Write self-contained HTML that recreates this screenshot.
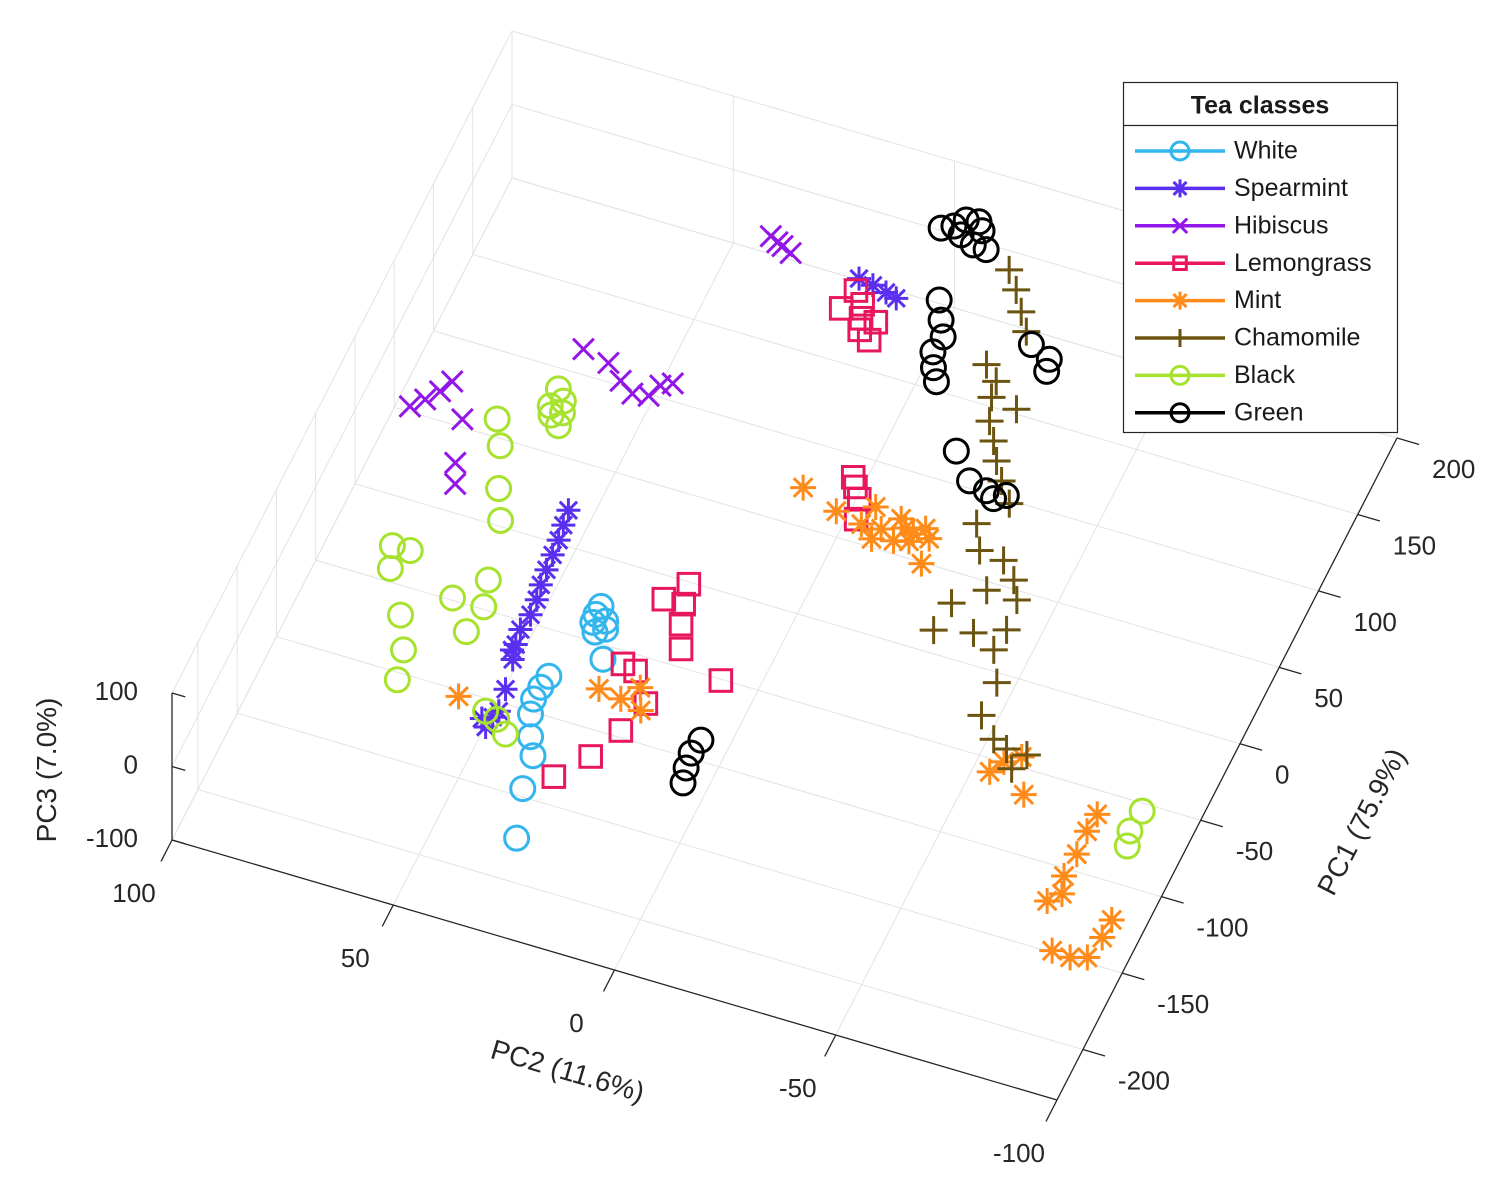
<!DOCTYPE html>
<html><head><meta charset="utf-8"><style>
html,body{margin:0;padding:0;background:#fff;}
svg{display:block;font-family:"Liberation Sans",Arial,sans-serif;}
</style></head><body>
<svg id="chart" width="1511" height="1200" viewBox="0 0 1511 1200" xmlns="http://www.w3.org/2000/svg">
<g id="grid"></g>
<g id="axes"></g>
<g id="points"></g>
<text x="0" y="0" font-size="28" fill="#262626" text-anchor="middle" transform="translate(56,770) rotate(-90)">PC3 (7.0%)</text>
<text x="0" y="0" font-size="28" fill="#262626" text-anchor="middle" transform="translate(565,1080) rotate(16.4)">PC2 (11.6%)</text>
<text x="0" y="0" font-size="28" fill="#262626" text-anchor="middle" transform="translate(1370,826) rotate(-62.8)">PC1 (75.9%)</text>
<g id="legend"></g>
</svg>
<script>
const pc2Ticks = [100, 50, 0, -50, -100];
const pc1Ticks = [-200, -150, -100, -50, 0, 50, 100, 150, 200];
const pc3Ticks = [-100, 0, 100];

const whitePc1 = [-70.4,-80.8,-82.6,-100.1,-118.8,-126.4,-134.3,-143.3,-156.2,-166.6,-187.0,-216.2,-75.8,-78.0,-86.0];
const whitePc2 = [31.9,31.9,28.7,26.2,35.1,35.6,35.8,34.9,32.6,30.2,28.9,25.1,32.1,29.5,30.5];
const spearPc1 = [-21.2,-30.5,-39.8,-49.2,-58.7,-68.2,-77.3,-86.9,-97.0,-106.3,-115.3,-133.4,-151.4,-158.2,-147.0,159.0,157.5,155.6,154.0,-154.0,-110.0];
const spearPc2 = [48.0,47.5,46.9,46.6,46.3,45.9,45.2,44.9,45.4,44.8,43.9,42.3,42.0,42.4,41.4,14.3,10.9,7.6,5.0,44.0,45.0];
const hibPc1 = [11.4,17.9,25.0,32.6,12.8,-13.1,-25.1,72.9,69.2,61.1,55.8,57.3,65.0,68.3,168.4,164.7,162.1,166.0];
const hibPc2 = [89.6,87.3,85.2,83.8,78.0,75.0,72.9,61.3,55.0,50.8,47.2,43.8,42.5,40.3,35.9,32.6,30.3,34.0];
const lemPc1 = [139.1,151.7,136.8,137.0,125.7,45.1,33.6,21.8,-43.1,-55.3,-67.1,-81.2,-55.8,-92.5,-99.4,-101.3,-118.1,-137.6,-157.4,-175.0,130.0,145.0,40.0];
const lemPc2 = [14.8,13.7,9.9,6.6,6.1,-4.6,-8.0,-9.4,16.9,15.9,14.4,11.9,20.3,0.9,21.8,18.6,13.3,15.5,18.8,24.0,9.0,11.0,-6.0];
const mintPc1 = [30.9,23.0,19.9,20.4,29.5,23.0,22.9,15.8,7.4,13.2,-145.3,-117.6,-119.6,-122.9,-99.5,-91.5,-85.7,-106.8,-105.7,-117.0,-131.7,-146.3,-156.8,-163.3,-190.7,-191.5,-188.7,-174.9,-163.3,25.0,28.0,18.0,32.0,-110.0];
const mintPc2 = [4.2,-4.7,-10.9,-15.3,-18.2,-22.1,-25.7,-18.9,-26.7,-14.4,50.8,24.0,18.7,13.6,-61.1,-62.9,-65.9,-70.1,-86.5,-86.2,-86.5,-86.2,-87.6,-85.4,-91.4,-95.6,-99.0,-99.9,-100,-20.0,-24.0,-22.0,-12.0,16.0];
const chamPc1 = [189.0,178.8,167.2,156.8,131.4,123.5,113.6,111.0,99.8,89.2,78.3,67.8,56.2,39.4,24.6,23.0,13.5,2.7,3.2,-10.0,-28.3,-23.2,-16.0,-29.5,-47.6,-68.8,-80.3,-83.7,-83.7,-94.1];
const chamPc2 = [-14.3,-17.7,-20.9,-23.9,-19.4,-23.0,-23.7,-29.8,-25.7,-28.5,-31.1,-34.1,-37.9,-33.5,-36.8,-42.5,-46.5,-49.1,-42.2,-36.6,-35.8,-43.9,-50.1,-49.6,-53.5,-53.8,-58.6,-62.1,-66.7,-65.1];
const blackPc1 = [46.1,35.1,33.2,25.2,18.8,4.1,-20.5,-38.3,-70.7,-70.5,-84.0,-108.8,-128.1,-146.1,-90.4,-74.2,-90.2,-107.2,-149.2,-158.9,-96.4,-109.7,-118.7,40.0,30.0,-152.0];
const blackPc2 = [62.2,62.1,59.0,58.5,71.2,67.9,63.9,60.3,79.0,75.0,77.1,70.4,66.3,64.5,61.9,56.7,54.9,55.8,44.0,37.8,-95.0,-94.6,-95.6,60.0,61.0,41.0];
const greenPc1 = [184.7,193.5,194.6,180.5,180.0,184.2,160.2,149.1,139.9,129.7,120.8,113.3,150.3,144.9,137.6,77.2,62.5,59.7,60.3,56.4,-129.7,-138.7,-148.0,-157.0,188.0,190.0];
const greenPc2 = [0.3,-3.8,-6.5,-7.7,-10.7,-4.3,-3.6,-6.0,-8.1,-7.6,-9.3,-11.3,-26.2,-31.2,-31.9,-22.2,-27.8,-32.1,-36.5,-34.3,-1.2,-0.6,-1.1,-2.0,-2.0,-8.0];
const greenPc3 = [40,40,40,40,40,40,0,0,0,0,0,0,0,0,0,0,0,0,0,0,0,0,0,0,40,40];

const seriesNames = ["White","Spearmint","Hibiscus","Lemongrass","Mint","Chamomile","Black","Green"];

const NS = "http://www.w3.org/2000/svg";
const PC1MIN = -233, PC1MAX = 200, PC2MIN = -100, PC2MAX = 100, PC3MIN = -100, PC3MAX = 100;
function proj(pc1, pc2, pc3) {
  const u = (PC2MAX - pc2) / (PC2MAX - PC2MIN);
  const v = (pc1 - PC1MIN) / (PC1MAX - PC1MIN);
  const w = (pc3 - PC3MIN) / (PC3MAX - PC3MIN);
  return [172 + 885 * u + 340 * v, 840 + 260 * u - 662 * v - 147 * w];
}
function mk(tag, attrs, parent) {
  const e = document.createElementNS(NS, tag);
  for (const k in attrs) e.setAttribute(k, attrs[k]);
  parent.appendChild(e);
  return e;
}
function line(p, q, stroke, sw, parent, name) {
  const e = mk("line", {x1: p[0], y1: p[1], x2: q[0], y2: q[1], stroke: stroke, "stroke-width": sw}, parent);
  
  
  return e;
}
const grid = document.getElementById("grid");
const axes = document.getElementById("axes");
const GC = "#e3e3e3";
pc2Ticks.forEach(t => line(proj(PC1MIN, t, PC3MIN), proj(PC1MAX, t, PC3MIN), GC, 1, grid, "floor-grid-pc2"));
pc1Ticks.forEach(t => line(proj(t, PC2MIN, PC3MIN), proj(t, PC2MAX, PC3MIN), GC, 1, grid, "floor-grid-pc1"));
pc1Ticks.forEach(t => line(proj(t, PC2MAX, PC3MIN), proj(t, PC2MAX, PC3MAX), GC, 1, grid, "left-wall-grid-pc1"));
pc3Ticks.forEach(t => line(proj(PC1MIN, PC2MAX, t), proj(PC1MAX, PC2MAX, t), GC, 1, grid, "left-wall-grid-pc3"));
line(proj(PC1MIN, PC2MAX, PC3MIN), proj(PC1MIN, PC2MAX, PC3MAX), GC, 1, grid, "left-wall-edge");
pc2Ticks.forEach(t => line(proj(PC1MAX, t, PC3MIN), proj(PC1MAX, t, PC3MAX), GC, 1, grid, "back-wall-grid-pc2"));
pc3Ticks.forEach(t => line(proj(PC1MAX, PC2MIN, t), proj(PC1MAX, PC2MAX, t), GC, 1, grid, "back-wall-grid-pc3"));

const AC = "#262626";
line(proj(PC1MIN, PC2MAX, PC3MIN), proj(PC1MIN, PC2MIN, PC3MIN), AC, 1.3, axes, "pc2-axis-line");
line(proj(PC1MIN, PC2MIN, PC3MIN), proj(PC1MAX, PC2MIN, PC3MIN), AC, 1.3, axes, "pc1-axis-line");
line(proj(PC1MIN, PC2MAX, PC3MIN), proj(PC1MIN, PC2MAX, PC3MAX), AC, 1.3, axes, "pc3-axis-line");

function label(x, y, txt, anchor, name) {
  const t = mk("text", {x: x, y: y, "font-size": 26, fill: AC, "text-anchor": anchor, "dominant-baseline": "middle"}, axes);
  t.textContent = txt;
  
  
}
pc2Ticks.forEach(t => {
  const p = proj(PC1MIN, t, PC3MIN), q = proj(PC1MIN - 14, t, PC3MIN);
  line(p, q, AC, 1.3, axes, "pc2-tick");
  label(p[0] - 38, p[1] + 55, String(t), "middle", "pc2-tick-label");
});
pc1Ticks.forEach(t => {
  const p = proj(t, PC2MIN, PC3MIN), q = proj(t, PC2MIN - 5, PC3MIN);
  line(p, q, AC, 1.3, axes, "pc1-tick");
  label(p[0] + 35, p[1] + 33, String(t), "start", "pc1-tick-label");
});
pc3Ticks.forEach(t => {
  const p = proj(PC1MIN, PC2MAX, t), q = proj(PC1MIN, PC2MAX - 3, t);
  line(p, q, AC, 1.3, axes, "pc3-tick");
  label(138, p[1], String(t), "end", "pc3-tick-label");
});

function drawMarker(parent, type, x, y, color, s, sw) {
  const g = mk("g", {stroke: color, "stroke-width": sw, fill: "none", "stroke-linecap": "butt"}, parent);
  if (type === "o") mk("circle", {cx: x, cy: y, r: s}, g);
  else if (type === "s") mk("rect", {x: x - s * 0.9, y: y - s * 0.9, width: s * 1.8, height: s * 1.8}, g);
  else if (type === "x") { const d = s * 0.8; mk("path", {d: `M${x-d},${y-d}L${x+d},${y+d}M${x-d},${y+d}L${x+d},${y-d}`}, g); }
  else if (type === "+") mk("path", {d: `M${x-s},${y}L${x+s},${y}M${x},${y-s}L${x},${y+s}`}, g);
  else if (type === "*") { const d = s * 0.72; mk("path", {d: `M${x-s},${y}L${x+s},${y}M${x},${y-s}L${x},${y+s}M${x-d},${y-d}L${x+d},${y+d}M${x-d},${y+d}L${x+d},${y-d}`}, g); }
  return g;
}
const series = [
  {name: seriesNames[0], color: "#33b5ee", m: "o", s: 12, pc1: whitePc1, pc2: whitePc2, pc3: null},
  {name: seriesNames[1], color: "#5b2ff0", m: "*", s: 12, pc1: spearPc1, pc2: spearPc2, pc3: null},
  {name: seriesNames[2], color: "#9316e8", m: "x", s: 13, pc1: hibPc1, pc2: hibPc2, pc3: null},
  {name: seriesNames[3], color: "#e8175d", m: "s", s: 12, pc1: lemPc1, pc2: lemPc2, pc3: null},
  {name: seriesNames[4], color: "#ff8c1a", m: "*", s: 13, pc1: mintPc1, pc2: mintPc2, pc3: null},
  {name: seriesNames[5], color: "#6b5410", m: "+", s: 14, pc1: chamPc1, pc2: chamPc2, pc3: null},
  {name: seriesNames[6], color: "#a6e22e", m: "o", s: 12, pc1: blackPc1, pc2: blackPc2, pc3: null},
  {name: seriesNames[7], color: "#000000", m: "o", s: 12, pc1: greenPc1, pc2: greenPc2, pc3: greenPc3}
];
const pts = document.getElementById("points");
series.forEach(sr => {
  const g = mk("g", {}, pts);
  
  
  sr.pc1.forEach((v, i) => {
    const z = sr.pc3 ? sr.pc3[i] : 0;
    const p = proj(v, sr.pc2[i], z);
    const mEl = drawMarker(g, sr.m, p[0], p[1], sr.color, sr.s, 3);
    
    
  });
});

const lg = document.getElementById("legend");
const box = mk("rect", {x: 1123.5, y: 82.5, width: 274, height: 350, fill: "#fff", stroke: "#262626", "stroke-width": 1.2}, lg);


const ttl = mk("text", {x: 1260, y: 107, "font-size": 25, "font-weight": "bold", fill: "#1a1a1a", "text-anchor": "middle", "dominant-baseline": "middle"}, lg);
ttl.textContent = "Tea classes";


line([1123.5, 125.5], [1397.5, 125.5], "#262626", 1.2, lg, "legend-title-separator");
series.forEach((sr, i) => {
  const y = 151 + i * 37.4;
  const g = mk("g", {}, lg);
  
  
  mk("line", {x1: 1135, y1: y, x2: 1225, y2: y, stroke: sr.color, "stroke-width": 3.5}, g);
  drawMarker(g, sr.m, 1180, y, sr.color, sr.m === "s" ? 7 : 9, 3);
  const t = mk("text", {x: 1234, y: y + 1, "font-size": 25, fill: "#1a1a1a", "dominant-baseline": "middle"}, g);
  t.textContent = sr.name;
});
</script>
</body></html>
